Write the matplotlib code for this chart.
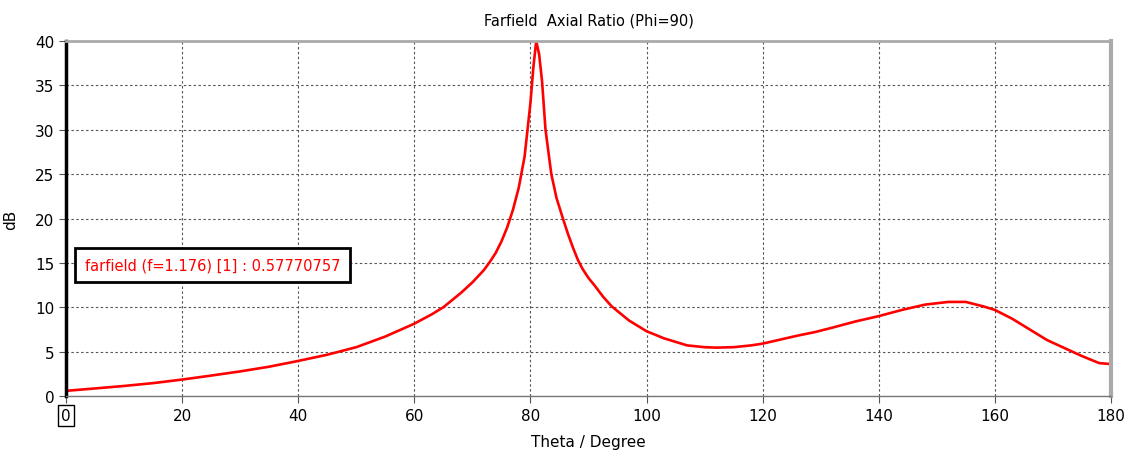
import matplotlib.pyplot as plt
import numpy as np

theta = [0, 5, 10, 15, 20, 25, 30, 35, 40, 45, 50, 55, 60, 63, 65, 68, 70, 72, 73, 74,
         75, 76, 77, 78, 79, 80, 80.5, 81, 81.5, 82, 82.6, 83, 83.6, 84.5, 85.6, 86.5,
         87.4, 88.2, 89, 90, 91, 92.5, 94, 97, 100, 103, 107, 110, 112, 115, 118, 120,
         123, 126, 129, 132, 136, 140, 144, 148, 152, 155, 158, 160, 163, 166, 169,
         172, 175, 178, 180]
ar_db = [0.58, 0.85, 1.13, 1.45, 1.85, 2.3, 2.77, 3.3, 3.95, 4.65, 5.5, 6.7, 8.15, 9.2,
         10.0, 11.6, 12.8, 14.2, 15.1, 16.1, 17.4, 19.0, 21.0, 23.5, 27.0, 33.0, 37.0,
         40.0, 38.5, 35.5, 30.0, 28.0, 25.0, 22.3, 20.0, 18.2, 16.6, 15.3, 14.3, 13.3,
         12.5, 11.2, 10.1, 8.5, 7.3, 6.5, 5.7, 5.5, 5.45, 5.5, 5.7, 5.9, 6.35, 6.8, 7.2,
         7.7, 8.4, 9.0, 9.7, 10.3, 10.6, 10.6, 10.1, 9.7, 8.7, 7.5, 6.3, 5.4, 4.5, 3.7,
         3.6]
xticks = [0, 20, 40, 60, 80, 100, 120, 140, 160, 180]
yticks = [0, 5, 10, 15, 20, 25, 30, 35, 40]

fig = plt.figure(figsize=(11.32, 4.52), dpi=100)
ax = fig.add_axes([0.0583, 0.1217, 0.9231, 0.7853])

ax.plot(theta, ar_db, color='red', lw=1.9)
ax.set_xlim(0, 180)
ax.set_ylim(0, 40)
ax.set_xticks(xticks)
ax.set_yticks(yticks)
ax.grid(True, color='#555555', linestyle=(0, (2.2, 2.2)), lw=0.8)
ax.tick_params(labelsize=11, length=5, color='#555555')

ax.spines['left'].set_color('black')
ax.spines['left'].set_linewidth(2.5)
ax.spines['right'].set_color('#aaaaaa')
ax.spines['right'].set_linewidth(3)
ax.spines['top'].set_color('#aaaaaa')
ax.spines['top'].set_linewidth(2)
ax.spines['bottom'].set_color('#777777')
ax.spines['bottom'].set_linewidth(1)

# box round the first x tick label
lbl = ax.get_xticklabels()[0]
lbl.set_bbox(dict(facecolor='white', edgecolor='black', lw=1, boxstyle='square,pad=0.2'))

ax.set_title('Farfield  Axial Ratio (Phi=90)', fontsize=10.5, pad=12)
ax.set_xlabel('Theta / Degree', fontsize=11, labelpad=8)
ax.set_ylabel('dB', fontsize=11, labelpad=12)

ax.text(3.2, 14.8, 'farfield (f=1.176) [1] : 0.57770757', color='red', fontsize=10.5,
        va='center', ha='left',
        bbox=dict(facecolor='white', edgecolor='black', lw=2, boxstyle='square,pad=0.65'))

fig.savefig('out.png', dpi=100)
